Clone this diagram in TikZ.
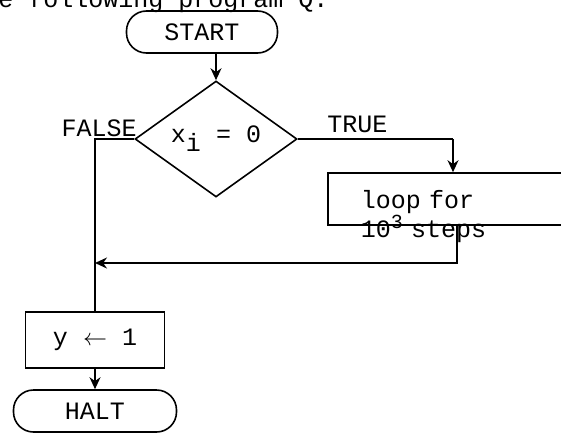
\documentclass[tikz,border=0pt]{standalone}
\usepackage{fontspec}
\setmonofont{Liberation Mono}
\usetikzlibrary{arrows.meta, positioning, shapes.geometric}

\begin{document}
\begin{tikzpicture}[
    x=0.5pt, y=-0.5pt,
    >={Stealth[length=6pt, width=5.5pt]},
    every node/.style={font=\ttfamily\fontsize{12.5}{12}\selectfont},
    line/.style={line width=0.8pt},
    term/.style={draw, line width=0.8pt, rounded corners=10pt, minimum height=21pt},
    test/.style={diamond, draw, line width=0.8pt, minimum width=81pt,
                 minimum height=46pt, inner sep=0pt},
    proc/.style={draw, line width=0.8pt},
    lbl/.style={inner sep=0pt},
]
  \useasboundingbox (0,0) rectangle (561,433);
  \node[lbl, anchor=base west] (intro) at (-2,8) {e following program Q:};
  \node[term, minimum width=75.5pt] (start) at (202,32) {START};
  \node[test] (dec) at (216,139) {x\raisebox{-0.7ex}{i} = 0};
  \node[lbl, anchor=base east] (no) at (137,136) {FALSE};
  \node[lbl, anchor=base west] (yes) at (327,132) {TRUE};
  \node[proc, anchor=west, minimum width=150pt, minimum height=26pt,
        text width=117pt, inner xsep=16.5pt, inner ysep=0pt, text depth=0pt,
        align=left] (loop) at (327,199)
        {loop\ for\\10\raisebox{0.7ex}{\fontsize{10}{10}\selectfont 3} steps};
  \node[proc, minimum width=69.5pt, minimum height=28pt] (set) at (95,340) {y $\leftarrow$ 1};
  \node[term, minimum width=81.5pt] (halt) at (95,411) {HALT};

  \coordinate (tr) at (453,139);
  \coordinate (back) at (457,263);

  \draw[line, ->] (start.south -| dec.north) -- (dec.north);
  \draw[line] (dec.west) -| (set.north);
  \draw[line] (dec.east) -- (tr);
  \draw[line, ->] (tr) -- (tr |- loop.north);
  \draw[line, ->] (loop.south -| back) -- (back) -- (back -| set.north);
  \draw[line, ->] (set.south) -- (halt.north);
\end{tikzpicture}
\end{document}
